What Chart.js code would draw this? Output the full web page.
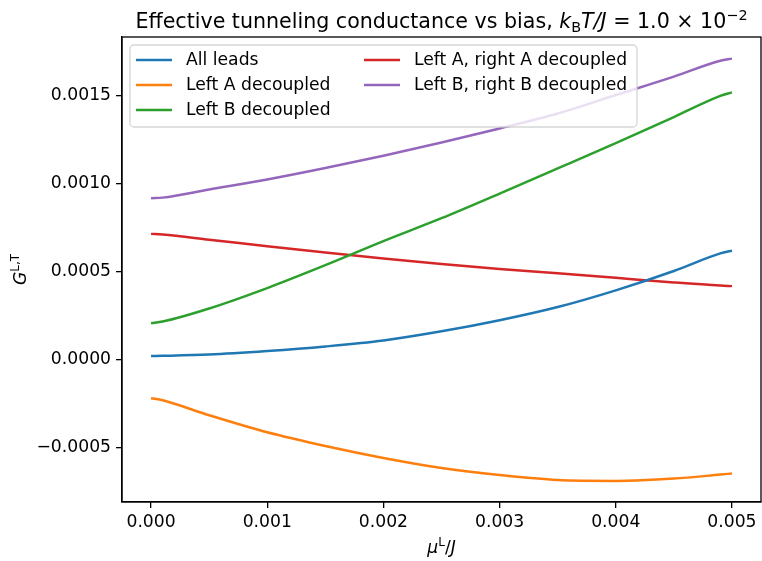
<!DOCTYPE html>
<html>
<head>
<meta charset="utf-8">
<script src="https://cdn.jsdelivr.net/npm/chart.js@4/dist/chart.umd.min.js"></script>
<style>
html,body{margin:0;padding:0;background:#fff;}
canvas{display:block;}
</style>
</head>
<body>
<canvas id="c" width="762" height="561"></canvas>
<script>
// ---- data ----
const muValues = [0, 0.0001, 0.0005, 0.001, 0.0015, 0.002, 0.0025, 0.003, 0.0035, 0.004, 0.0045, 0.0049, 0.005];
const allLeads        = [2.2e-5, 2.3e-5, 3.0e-5, 5.0e-5, 7.6e-5, 1.10e-4, 1.62e-4, 2.25e-4, 3.00e-4, 3.95e-4, 5.05e-4, 6.05e-4, 6.2e-4];
const leftADecoupled  = [-2.18e-4, -2.30e-4, -3.15e-4, -4.12e-4, -4.90e-4, -5.58e-4, -6.15e-4, -6.55e-4, -6.83e-4, -6.88e-4, -6.75e-4, -6.52e-4, -6.46e-4];
const leftBDecoupled  = [2.08e-4, 2.18e-4, 2.92e-4, 4.08e-4, 5.38e-4, 6.75e-4, 8.05e-4, 9.45e-4, 1.088e-3, 1.232e-3, 1.38e-3, 1.50e-3, 1.52e-3];
const leftARightA     = [7.16e-4, 7.12e-4, 6.83e-4, 6.46e-4, 6.10e-4, 5.76e-4, 5.45e-4, 5.17e-4, 4.92e-4, 4.66e-4, 4.40e-4, 4.22e-4, 4.19e-4];
const leftBRightB     = [9.19e-4, 9.22e-4, 9.68e-4, 1.025e-3, 1.09e-3, 1.16e-3, 1.235e-3, 1.315e-3, 1.40e-3, 1.505e-3, 1.61e-3, 1.70e-3, 1.712e-3];
const seriesNames = ["All leads", "Left A decoupled", "Left B decoupled", "Left A, right A decoupled", "Left B, right B decoupled"];
const xTickValues = [0, 0.001, 0.002, 0.003, 0.004, 0.005];
const xTickLabels = ["0.000", "0.001", "0.002", "0.003", "0.004", "0.005"];
const yTickValues = [-0.0005, 0, 0.0005, 0.001, 0.0015];
const yTickLabels = ["\u22120.0005", "0.0000", "0.0005", "0.0010", "0.0015"];

const colors = ["#1f77b4", "#ff7f0e", "#2ca02c", "#d62728", "#9467bd"];
const seriesValues = [allLeads, leftADecoupled, leftBDecoupled, leftARightA, leftBRightB];

const FONT = "'DejaVu Sans', 'Liberation Sans', sans-serif";
const FS = 17.2;

function drawRuns(ctx, runs, x, y, align) {
  let total = 0;
  for (const r of runs) { ctx.font = r.font; r.w = ctx.measureText(r.text).width; total += r.w; }
  let cx = align === 'center' ? x - total / 2 : x;
  ctx.textBaseline = 'alphabetic';
  ctx.textAlign = 'left';
  for (const r of runs) { ctx.font = r.font; ctx.fillText(r.text, cx, y + (r.dy || 0)); cx += r.w; }
}

const decorPlugin = {
  id: 'decor',
  afterDatasetsDraw(chart) {
    const ctx = chart.ctx;
    const a = chart.chartArea;
    ctx.save();
    // frame
    ctx.strokeStyle = '#000';
    ctx.lineWidth = 1.3;
    ctx.strokeRect(a.left, a.top, a.right - a.left, a.bottom - a.top);

    // legend
    const bx = 130, by = 45, bw = 507, bh = 82, r = 4;
    ctx.beginPath();
    ctx.moveTo(bx + r, by);
    ctx.arcTo(bx + bw, by, bx + bw, by + bh, r);
    ctx.arcTo(bx + bw, by + bh, bx, by + bh, r);
    ctx.arcTo(bx, by + bh, bx, by, r);
    ctx.arcTo(bx, by, bx + bw, by, r);
    ctx.closePath();
    ctx.fillStyle = 'rgba(255,255,255,0.8)';
    ctx.fill();
    ctx.strokeStyle = 'rgba(204,204,204,0.8)';
    ctx.lineWidth = 1.3;
    ctx.stroke();
    const rows = [60, 85, 110];
    const cols = [{h0: 136, h1: 172, t: 186}, {h0: 364, h1: 400, t: 414}];
    ctx.font = FS + 'px ' + FONT;
    ctx.textBaseline = 'middle';
    ctx.textAlign = 'left';
    seriesNames.forEach((name, i) => {
      const c = cols[i < 3 ? 0 : 1];
      const y = rows[i < 3 ? i : i - 3];
      ctx.strokeStyle = colors[i];
      ctx.lineWidth = 2.5;
      ctx.beginPath(); ctx.moveTo(c.h0, y); ctx.lineTo(c.h1, y); ctx.stroke();
      ctx.fillStyle = '#000';
      ctx.fillText(name, c.t, y + 1);
    });

    // title
    ctx.fillStyle = '#000';
    const cx = (a.left + a.right) / 2;
    drawRuns(ctx, [
      {text: 'Effective tunneling conductance vs bias, ', font: '20.6px ' + FONT},
      {text: 'k', font: 'italic 20.6px ' + FONT},
      {text: 'B', font: '14.4px ' + FONT, dy: 4},
      {text: 'T/J', font: 'italic 20.6px ' + FONT},
      {text: ' = 1.0 \u00d7 10', font: '20.6px ' + FONT},
      {text: '\u22122', font: '14.4px ' + FONT, dy: -8}
    ], cx, 28, 'center');

    // x label
    drawRuns(ctx, [
      {text: '\u03bc', font: 'italic ' + FS + 'px ' + FONT},
      {text: 'L', font: '12px ' + FONT, dy: -7},
      {text: '/', font: FS + 'px ' + FONT},
      {text: 'J', font: 'italic ' + FS + 'px ' + FONT}
    ], cx, 553, 'center');

    // y label
    ctx.save();
    ctx.translate(26, (a.top + a.bottom) / 2);
    ctx.rotate(-Math.PI / 2);
    drawRuns(ctx, [
      {text: 'G', font: 'italic ' + FS + 'px ' + FONT},
      {text: 'L,T', font: '12px ' + FONT, dy: -7}
    ], 0, 0, 'center');
    ctx.restore();
    ctx.restore();
  }
};

const datasets = seriesValues.map((vals, i) => ({
  label: seriesNames[i],
  data: muValues.map((x, j) => ({x: x, y: vals[j]})),
  borderColor: colors[i],
  backgroundColor: colors[i],
  borderWidth: 2.5,
  pointRadius: 0,
  fill: false,
  cubicInterpolationMode: 'monotone'
}));

new Chart(document.getElementById('c'), {
  type: 'line',
  data: {datasets: datasets},
  options: {
    responsive: false,
    animation: false,
    devicePixelRatio: 1,
    layout: {padding: {left: 0, top: 37, right: 1, bottom: 0}},
    plugins: {legend: {display: false}, title: {display: false}, tooltip: {enabled: false}},
    scales: {
      x: {
        type: 'linear',
        min: -0.00025, max: 0.00525,
        afterFit(s) { s.height = 59; },
        afterBuildTicks(s) { s.ticks = xTickValues.map(v => ({value: v})); },
        ticks: {
          callback(v) { const k = xTickValues.indexOf(v); return k >= 0 ? xTickLabels[k] : ''; },
          font: {family: FONT, size: FS}, color: '#000', padding: 4, maxRotation: 0, autoSkip: false
        },
        grid: {drawOnChartArea: false, drawTicks: true, tickLength: 6, color: '#000', lineWidth: 1.3},
        border: {display: true, color: '#000', width: 1.3}
      },
      y: {
        type: 'linear',
        min: -0.000808, max: 0.001835,
        afterFit(s) { s.width = 122; },
        afterBuildTicks(s) { s.ticks = yTickValues.map(v => ({value: v})); },
        ticks: {
          callback(v) { const k = yTickValues.indexOf(v); return k >= 0 ? yTickLabels[k] : ''; },
          font: {family: FONT, size: FS}, color: '#000', padding: 5, autoSkip: false
        },
        grid: {drawOnChartArea: false, drawTicks: true, tickLength: 6, color: '#000', lineWidth: 1.3},
        border: {display: true, color: '#000', width: 1.3}
      }
    }
  },
  plugins: [decorPlugin]
});
</script>
</body>
</html>
